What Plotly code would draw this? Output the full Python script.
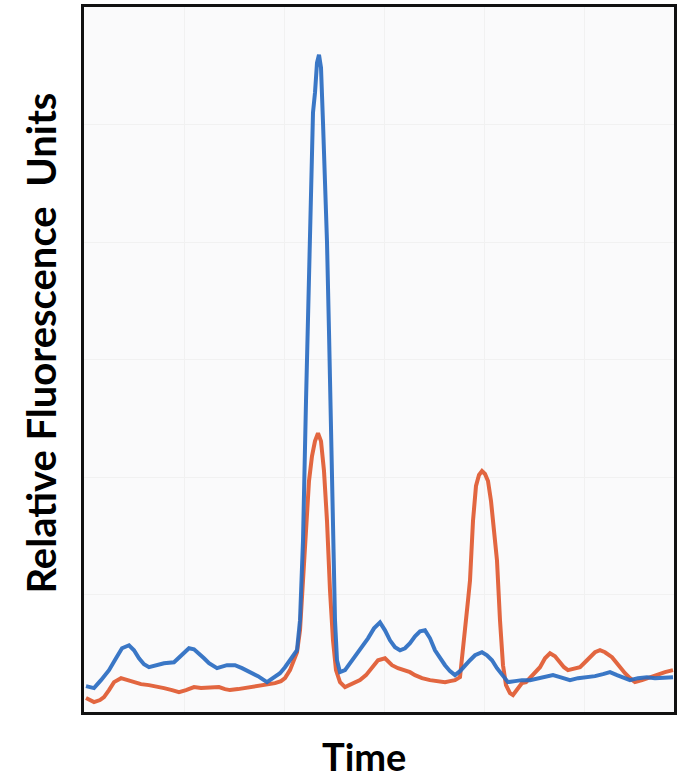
import plotly.graph_objects as go

# Time (arbitrary units) and Relative Fluorescence Units (arbitrary units)
blue_time = [2,10,17,25,32,38,45,50,55,60, 65,72,80,90,96,105,110,115,120,125,
             133,143,151,158,166,174,183,189,196,201, 206,210,213,216,219,222,225,227,229,231,
             233,235,237,239,241,243,245,247,249,251, 253,256,261,266,272,278,284,290,296,301,
             306,311,316,321,326,331,336,341,346,351, 356,361,366,371,376,381,386,391,398,403,
             408,413,418,424,431,438,446,456,463,469, 476,486,494,503,511,519,526,533,540,546,
             554,563,571,581,589]
blue_rfu = [26,24,32,42,54,64,67,62,54,48, 45,47,49,50,56,64,63,59,54,49,
            44,47,47,44,40,36,30,34,39,45, 52,57,62,92,172,312,432,512,602,622,
            652,660,647,592,532,472,382,282,162,92, 52,40,42,49,57,65,74,84,90,82,
            72,65,62,64,69,76,81,82,74,62, 54,47,41,37,41,47,52,57,60,57,
            52,44,37,30,31,32,32,34,36,37, 35,32,34,35,36,38,40,37,34,32,
            34,35,34,34,35]

red_time = [2,10,16,20,25,30,37,44,50,57, 65,72,80,88,95,102,110,117,125,130,
            135,141,146,154,161,169,176,184,191,197, 201,206,209,213,216,219,222,225,228,231,
            234,237,240,243,246,249,252,256,261,266, 271,276,282,288,294,301,308,314,321,326,
            331,338,346,354,361,366,371,376,378,381, 384,386,389,392,395,398,401,404,407,410,
            413,416,419,422,426,429,433,438,442,446, 451,456,461,466,471,476,480,484,490,496,
            501,506,511,516,521,528,534,541,546,551, 558,566,574,581,589]
red_rfu = [14,10,12,15,22,30,34,32,30,28, 27,26,24,22,20,22,25,24,24,25,
           25,23,22,23,24,26,27,28,29,31, 34,42,49,60,82,132,192,232,257,272,
           280,272,242,192,122,72,42,30,25,27, 30,32,37,45,52,54,47,44,42,40,
           37,34,32,31,30,31,32,35,57,82, 112,132,192,227,238,242,239,232,212,182,
           152,92,47,27,19,17,22,29,30,34, 39,45,54,59,56,50,45,42,43,45,
           50,55,60,62,60,55,47,39,34,30, 32,35,38,40,42]

fig = go.Figure()
fig.add_trace(go.Scatter(x=red_time, y=red_rfu, mode="lines",
                         line=dict(color="#e0562c", width=4), opacity=0.9,
                         showlegend=False, hoverinfo="skip"))
fig.add_trace(go.Scatter(x=blue_time, y=blue_rfu, mode="lines",
                         line=dict(color="#2a6cc2", width=4), opacity=0.92,
                         showlegend=False, hoverinfo="skip"))

axis_common = dict(showticklabels=False, ticks="", zeroline=False,
                   showline=True, mirror=True, linecolor="#111111", linewidth=3,
                   showgrid=True, gridcolor="#f1f1f1", gridwidth=1)

fig.update_layout(
    width=685, height=779,
    margin=dict(l=84, r=11, t=4, b=67),
    paper_bgcolor="white",
    plot_bgcolor="#fafafb",
    xaxis=dict(range=[0, 590], dtick=100, **axis_common),
    yaxis=dict(range=[0, 708], dtick=118, **axis_common),
    font=dict(family="Lato, Open Sans, sans-serif", color="black"),
    annotations=[
        dict(text="<b>Relative Fluorescence\u00a0 Units</b>", textangle=-90,
             xref="paper", yref="paper", x=-0.073, y=0.524,
             xanchor="center", yanchor="middle", showarrow=False,
             font=dict(size=40, color="black", family="Lato, Open Sans, sans-serif")),
        dict(text="<b>Time</b>",
             xref="paper", yref="paper", x=0.475, y=-0.062,
             xanchor="center", yanchor="middle", showarrow=False,
             font=dict(size=38, color="black", family="Lato, Open Sans, sans-serif")),
    ],
)

fig.write_html("out.html", config={"displayModeBar": False},
               post_script="document.body.style.margin='0';document.body.style.padding='0';")
